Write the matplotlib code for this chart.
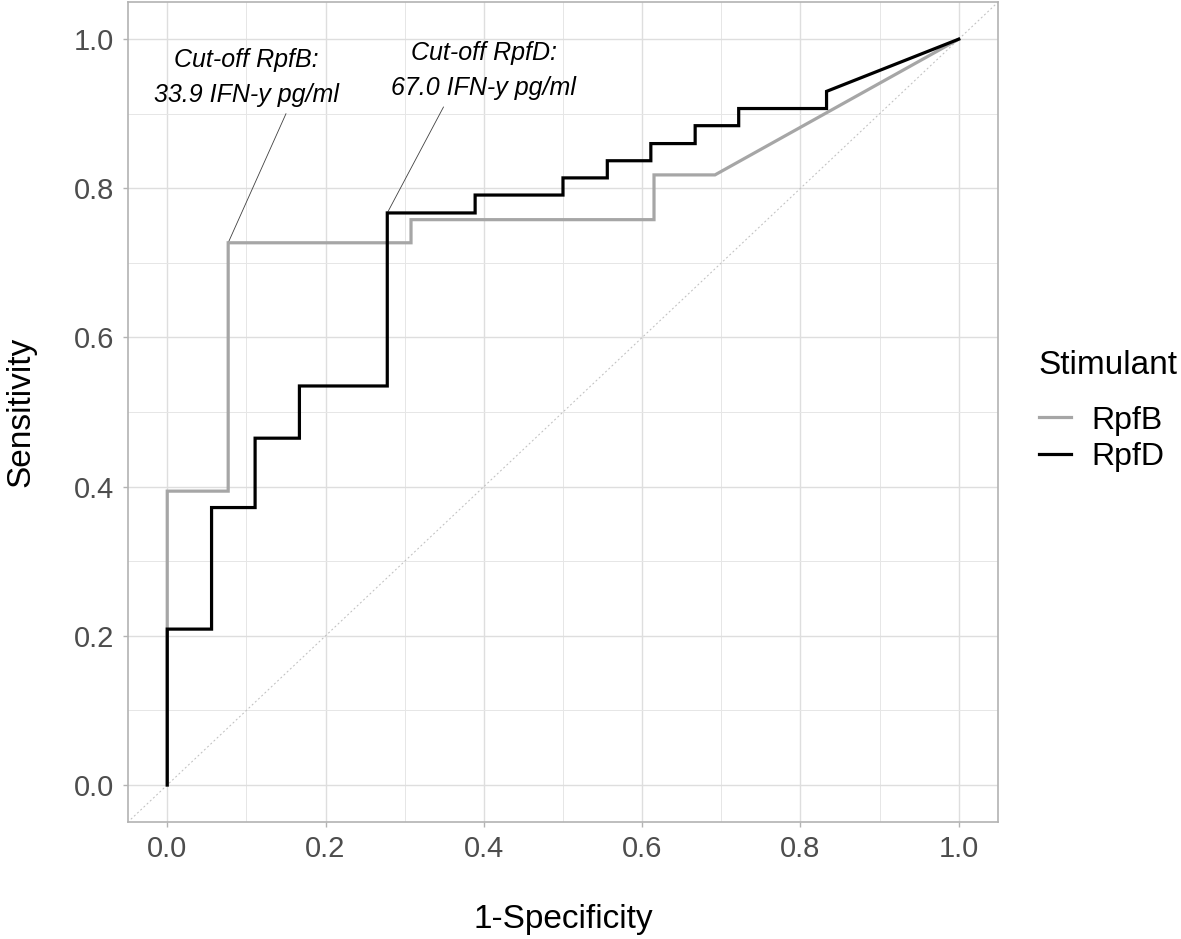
import matplotlib
matplotlib.use("Agg")
import matplotlib.pyplot as plt
from matplotlib.ticker import MultipleLocator

plt.rcParams['font.family'] = ['Liberation Sans', 'DejaVu Sans']

# ---- data ----
rpfb_fpr = [0.0, 0.0, 0.077, 0.077, 0.308, 0.308, 0.615, 0.615, 0.692, 1.0]
rpfb_tpr = [0.0, 0.394, 0.394, 0.727, 0.727, 0.758, 0.758, 0.818, 0.818, 1.0]

rpfd_fpr = [0.0, 0.0, 0.056, 0.056, 0.111, 0.111, 0.167, 0.167, 0.278, 0.278,
            0.389, 0.389, 0.5, 0.5, 0.556, 0.556, 0.611, 0.611, 0.667, 0.667,
            0.722, 0.722, 0.833, 0.833, 1.0]
rpfd_tpr = [0.0, 0.209, 0.209, 0.372, 0.372, 0.465, 0.465, 0.535, 0.535, 0.767,
            0.767, 0.791, 0.791, 0.814, 0.814, 0.837, 0.837, 0.860, 0.860, 0.884,
            0.884, 0.907, 0.907, 0.930, 1.0]

series_names = ["RpfB", "RpfD"]
ticks = [0.0, 0.2, 0.4, 0.6, 0.8, 1.0]
tick_labels = ["0.0", "0.2", "0.4", "0.6", "0.8", "1.0"]

cutoff_labels = ["Cut-off RpfB:\n33.9 IFN-y pg/ml", "Cut-off RpfD:\n67.0 IFN-y pg/ml"]
cutoff_points = [(0.077, 0.727), (0.278, 0.767)]
label_pos = [(0.10, 0.949), (0.40, 0.958)]
line_end = [(0.150, 0.900), (0.349, 0.909)]

# ---- figure ----
fig = plt.figure(figsize=(11.81, 9.39), dpi=100)
ax = fig.add_axes([0.1081, 0.1243, 0.7372, 0.8737])

ax.set_xlim(-0.05, 1.05)
ax.set_ylim(-0.05, 1.05)

# grid
ax.xaxis.set_minor_locator(MultipleLocator(0.1))
ax.yaxis.set_minor_locator(MultipleLocator(0.1))
ax.grid(which='major', color='#DEDEDE', lw=1.0, zorder=0)
ax.grid(which='minor', color='#E6E6E6', lw=0.7, zorder=0)
ax.set_axisbelow(True)

# diagonal reference
ax.plot([-0.05, 1.05], [-0.05, 1.05], color='#BEBEBE', lw=0.7,
        linestyle=(0, (2, 2.5)), zorder=1)

# ROC curves
colors = ['#A6A6A6', '#000000']
ax.plot(rpfb_fpr, rpfb_tpr, color=colors[0], lw=2.3, label=series_names[0],
        zorder=3, solid_joinstyle='miter')
ax.plot(rpfd_fpr, rpfd_tpr, color=colors[1], lw=2.3, label=series_names[1],
        zorder=4, solid_joinstyle='miter')

# annotations
for lab, (px, py), (tx, ty), (lx, ly) in zip(cutoff_labels, cutoff_points, label_pos, line_end):
    ax.plot([px, lx], [py, ly], color='#404040', lw=0.6, zorder=2)
    ax.text(tx, ty, lab, ha='center', va='center', fontsize=18,
            style='italic', linespacing=1.6, color='black', zorder=5)

# ticks and labels
ax.set_xticks(ticks)
ax.set_xticklabels(tick_labels)
ax.set_yticks(ticks)
ax.set_yticklabels(tick_labels)
ax.tick_params(which='major', length=3.5, width=1.0, color='#B3B3B3',
               labelsize=21, labelcolor='#4D4D4D', pad=6)
ax.tick_params(which='minor', length=0)

for s in ax.spines.values():
    s.set_color('#B3B3B3')
    s.set_linewidth(1.2)

ax.set_xlabel("1-Specificity", fontsize=24, labelpad=29)
ax.set_ylabel("Sensitivity", fontsize=24, labelpad=27)

leg = ax.legend(loc='center left', bbox_to_anchor=(0.8795, 0.5625),
                bbox_transform=fig.transFigure, frameon=False,
                title="Stimulant", title_fontsize=24, fontsize=23,
                handlelength=1.0, handletextpad=0.65, labelspacing=0.2,
                borderpad=0, borderaxespad=0, alignment='left')
leg._legend_box.sep = 18

fig.savefig("out.png", dpi=100)
